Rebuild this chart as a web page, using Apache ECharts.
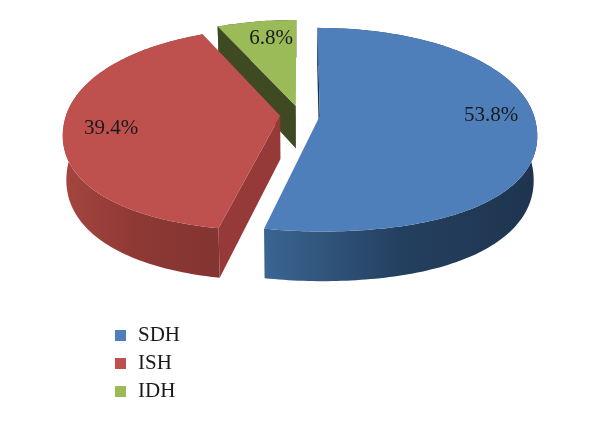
<!DOCTYPE html>
<html>
<head>
<meta charset="utf-8">
<style>
  html, body { margin: 0; padding: 0; background: #fff; }
  #chart { width: 600px; height: 423px; }
</style>
<script src="https://cdn.jsdelivr.net/npm/echarts@6/dist/echarts.min.js"></script>
</head>
<body>
<div id="chart"></div>
<script>
const categories = ['SDH', 'ISH', 'IDH'];
const shares = [53.8, 39.4, 6.8];

const topColors = ['#4f7fba', '#be504e', '#9bbb59'];
const cutColors = ['#17304d', '#953a38', '#3f4a22'];
const rimStops = [
  ['#3b6593', '#24405f', '#1e344f'],
  ['#a5453f', '#8d3835', '#843432'],
  ['#3f4a22', '#3f4a22', '#3f4a22'],
];
const labelSpots = [[491, 115], [111, 128], [271, 38]];
const drawOrder = [3, 2, 1];

// projection of the tilted pie, fitted by eye to the picture
const view = {
  cx: 300, cy: 115, rx: 214, ry: 99.7, persp: 0.133, explode: 0.093,
  depth: 43, taper: 0.015, bulgeFront: 0.035, bulgeBack: 0.01,
};

function project(X, Y, down) {
  const w = 1 + view.persp * Y;
  const squeeze = down ? 1 - view.taper : 1;
  return [
    view.cx + view.rx * X / w * squeeze,
    view.cy - view.ry * Y / w + (down ? view.depth / w : 0),
  ];
}

// the rim in the picture is fuller on the diagonals than a true ellipse
function rimRadius(a) {
  const b = Math.cos(a) < 0 ? view.bulgeFront : view.bulgeBack;
  return 1 + b * Math.pow(Math.sin(2 * a), 2);
}

function sliceAngles(idx) {
  const total = shares.reduce((a, b) => a + b, 0);
  let start = 0;
  for (let i = 0; i < idx; i++) start += shares[i];
  return [start / total * Math.PI * 2, (start + shares[idx]) / total * Math.PI * 2];
}

function renderSlice(idx) {
  const [a0, a1] = sliceAngles(idx);
  const mid = (a0 + a1) / 2;
  const ox = Math.sin(mid) * view.explode;
  const oy = Math.cos(mid) * view.explode;

  const arc = (down) => {
    const pts = [];
    const n = Math.ceil((a1 - a0) / 0.02);
    for (let i = 0; i <= n; i++) {
      const a = a0 + (a1 - a0) * i / n;
      const r = rimRadius(a);
      pts.push(project(ox + r * Math.sin(a), oy + r * Math.cos(a), down));
    }
    return pts;
  };
  const apex = project(ox, oy, false);
  const apexDown = project(ox, oy, true);
  const top = arc(false);
  const bottom = arc(true);

  const children = [];
  const poly = (points, fill) => children.push({
    type: 'polygon',
    shape: { points },
    style: { fill, stroke: null },
  });

  // blue shows its 0 deg cut, red its lower cut, green its left cut
  poly([apex, top[0], bottom[0], apexDown], cutColors[idx]);

  const stops = rimStops[idx];
  poly(top.concat(bottom.slice().reverse()), {
    type: 'linear', x: 0, y: 0, x2: 1, y2: 0,
    colorStops: [
      { offset: 0, color: stops[0] },
      { offset: 0.5, color: stops[1] },
      { offset: 1, color: stops[2] },
    ],
  });
  poly([apex].concat(top), topColors[idx]);

  children.push({
    type: 'text',
    x: labelSpots[idx][0],
    y: labelSpots[idx][1],
    style: {
      text: shares[idx].toFixed(1) + '%',
      font: '21px "Liberation Serif"',
      fill: '#1a1a1a',
      align: 'center',
      verticalAlign: 'middle',
    },
  });
  return { type: 'group', children };
}

const chart = echarts.init(document.getElementById('chart'));
chart.setOption({
  animation: false,
  legend: {
    data: categories,
    orient: 'vertical',
    left: 110,
    top: 319,
    icon: 'rect',
    itemWidth: 11,
    itemHeight: 11,
    itemGap: 5,
    textStyle: { fontFamily: 'Liberation Serif', fontSize: 21, color: '#1a1a1a', padding: [0, 0, 0, 7], lineHeight: 23 },
  },
  series: categories.map((name, i) => ({
    name,
    type: 'custom',
    coordinateSystem: 'none',
    z: drawOrder[i],
    silent: true,
    itemStyle: { color: topColors[i] },
    data: [shares[i]],
    renderItem: () => renderSlice(i),
  })),
});
</script>
</body>
</html>
